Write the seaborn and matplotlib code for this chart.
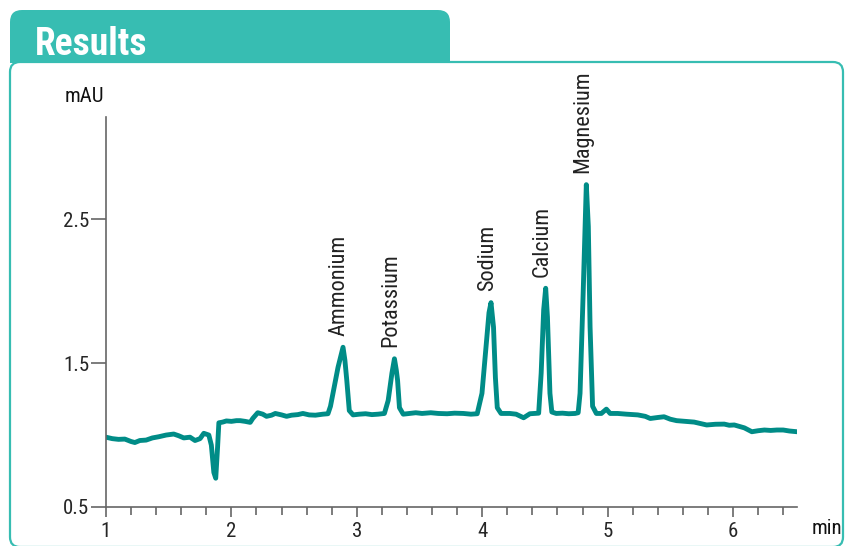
import matplotlib
matplotlib.use("Agg")
import matplotlib.pyplot as plt
import matplotlib.transforms as mtransforms
from matplotlib.patches import FancyBboxPatch, Rectangle
from matplotlib.ticker import MultipleLocator
import seaborn as sns
import pandas as pd

# chromatogram trace (min, mAU)
time = [1.00, 1.05, 1.10, 1.15, 1.20, 1.23, 1.27, 1.32, 1.37, 1.42, 1.48, 1.54, 1.58, 1.62,
        1.67, 1.71, 1.75, 1.78, 1.82, 1.84, 1.86, 1.875, 1.89, 1.90, 1.93, 1.96, 2.00, 2.04,
        2.07, 2.11, 2.15, 2.17, 2.21, 2.25, 2.28, 2.32, 2.35, 2.40, 2.44, 2.48, 2.53, 2.57,
        2.62, 2.67, 2.73, 2.77, 2.79, 2.81, 2.85, 2.89, 2.905, 2.92, 2.94, 2.97, 3.02, 3.07,
        3.12, 3.17, 3.22, 3.25, 3.28, 3.30, 3.315, 3.325, 3.34, 3.37, 3.42, 3.47, 3.52, 3.59,
        3.65, 3.72, 3.78, 3.85, 3.91, 3.96, 3.998, 4.03, 4.054, 4.07, 4.09, 4.105, 4.12, 4.15,
        4.19, 4.22, 4.27, 4.33, 4.38, 4.42, 4.45, 4.47, 4.49, 4.506, 4.52, 4.54, 4.555, 4.59,
        4.64, 4.69, 4.74, 4.765, 4.78, 4.805, 4.82, 4.83, 4.846, 4.86, 4.88, 4.91, 4.95, 4.99,
        5.02, 5.08, 5.15, 5.24, 5.30, 5.34, 5.40, 5.45, 5.50, 5.55, 5.62, 5.69, 5.74, 5.79,
        5.86, 5.93, 5.97, 6.01, 6.05, 6.09, 6.15, 6.20, 6.25, 6.30, 6.35, 6.40, 6.45, 6.51]
mau = [0.985, 0.975, 0.970, 0.972, 0.955, 0.948, 0.962, 0.965, 0.980, 0.988, 1.000, 1.007, 0.995, 0.980,
       0.985, 0.962, 0.975, 1.012, 1.000, 0.930, 0.740, 0.700, 0.920, 1.085, 1.090, 1.098, 1.095, 1.100,
       1.100, 1.095, 1.088, 1.115, 1.155, 1.145, 1.130, 1.138, 1.150, 1.140, 1.130, 1.138, 1.142, 1.150,
       1.140, 1.138, 1.145, 1.148, 1.200, 1.290, 1.470, 1.610, 1.520, 1.380, 1.170, 1.140, 1.145, 1.148,
       1.142, 1.145, 1.150, 1.240, 1.430, 1.530, 1.450, 1.380, 1.190, 1.145, 1.150, 1.155, 1.150, 1.155,
       1.150, 1.148, 1.152, 1.150, 1.145, 1.148, 1.290, 1.610, 1.850, 1.920, 1.750, 1.400, 1.190, 1.150,
       1.150, 1.150, 1.145, 1.120, 1.148, 1.150, 1.152, 1.430, 1.870, 2.020, 1.820, 1.290, 1.160, 1.150,
       1.152, 1.148, 1.150, 1.155, 1.290, 1.990, 2.450, 2.740, 2.450, 1.750, 1.200, 1.150, 1.150, 1.180,
       1.150, 1.150, 1.145, 1.140, 1.130, 1.115, 1.122, 1.127, 1.110, 1.100, 1.095, 1.090, 1.080, 1.070,
       1.075, 1.076, 1.068, 1.070, 1.060, 1.050, 1.023, 1.030, 1.035, 1.032, 1.035, 1.035, 1.028, 1.023]

peak_names = ["Ammonium", "Potassium", "Sodium", "Calcium", "Magnesium"]
peak_time = [2.89, 3.30, 4.07, 4.506, 4.83]
peak_height = [1.61, 1.53, 1.92, 2.02, 2.74]

trace = pd.DataFrame({"time": time, "mau": mau})

teal = "#008C87"
tab_teal = "#37BDB2"

sns.set_style("white")
plt.rcParams["font.family"] = ["Roboto Condensed", "Roboto", "DejaVu Sans"]

fig = plt.figure(figsize=(8.46, 5.46), dpi=100)
px = mtransforms.IdentityTransform()
H = 546

# frame and "Results" tab (pixel coordinates, origin bottom-left)
frame = FancyBboxPatch((10, -1), 833, H - 62 + 1, boxstyle="round,pad=0,rounding_size=10",
                       transform=px, facecolor="white", edgecolor=tab_teal, linewidth=1.6, zorder=0)
fig.add_artist(frame)
tab = FancyBboxPatch((10, H - 63), 440, 53, boxstyle="round,pad=0,rounding_size=12",
                     transform=px, facecolor=tab_teal, edgecolor="none", zorder=1)
fig.add_artist(tab)
fig.add_artist(Rectangle((10, H - 63), 440, 20, transform=px, facecolor=tab_teal,
                         edgecolor="none", zorder=1))
fig.text(35 / 846, 1 - 55 / H, "Results", color="white", fontsize=27, fontweight="bold",
         ha="left", va="baseline")

ax = fig.add_axes([106 / 846, 1 - 507 / H, (797 - 106) / 846, (507 - 117) / H])
ax.patch.set_alpha(0)

sns.lineplot(data=trace, x="time", y="mau", ax=ax, color=teal, linewidth=3.5,
             sort=False, estimator=None, solid_joinstyle="round")

for name, t, h in zip(peak_names, peak_time, peak_height):
    ax.text(t - 0.03, h + 0.08, name, rotation=90, ha="center", va="bottom",
            fontsize=16, color="#222222")

ax.set_xlim(1, 6.51)
ax.set_ylim(0.5, 3.21)
ax.set_xticks([1, 2, 3, 4, 5, 6])
ax.xaxis.set_minor_locator(MultipleLocator(0.2))
ax.set_yticks([0.5, 1.5, 2.5])
ax.set_yticklabels(["0.5", "1.5", "2.5"])
ax.set_xlabel("")
ax.set_ylabel("")
for side in ["top", "right"]:
    ax.spines[side].set_visible(False)
for side in ["left", "bottom"]:
    ax.spines[side].set_color("#666666")
    ax.spines[side].set_linewidth(1.2)
ax.tick_params(axis="y", which="major", direction="out", length=11, width=1.2,
               color="#666666", labelsize=15, pad=1, left=True)
ax.tick_params(axis="x", which="both", direction="out", length=6, width=1.2,
               color="#666666", labelsize=15, pad=4, bottom=True)
ax.tick_params(axis="x", which="major", length=7)

fig.text(65 / 846, 1 - 97 / H, "mAU", fontsize=15, ha="left", va="center", color="#111111")
fig.text(812 / 846, 1 - 528 / H, "min", fontsize=15, ha="left", va="center", color="#111111")

fig.savefig("out.png", dpi=100)
